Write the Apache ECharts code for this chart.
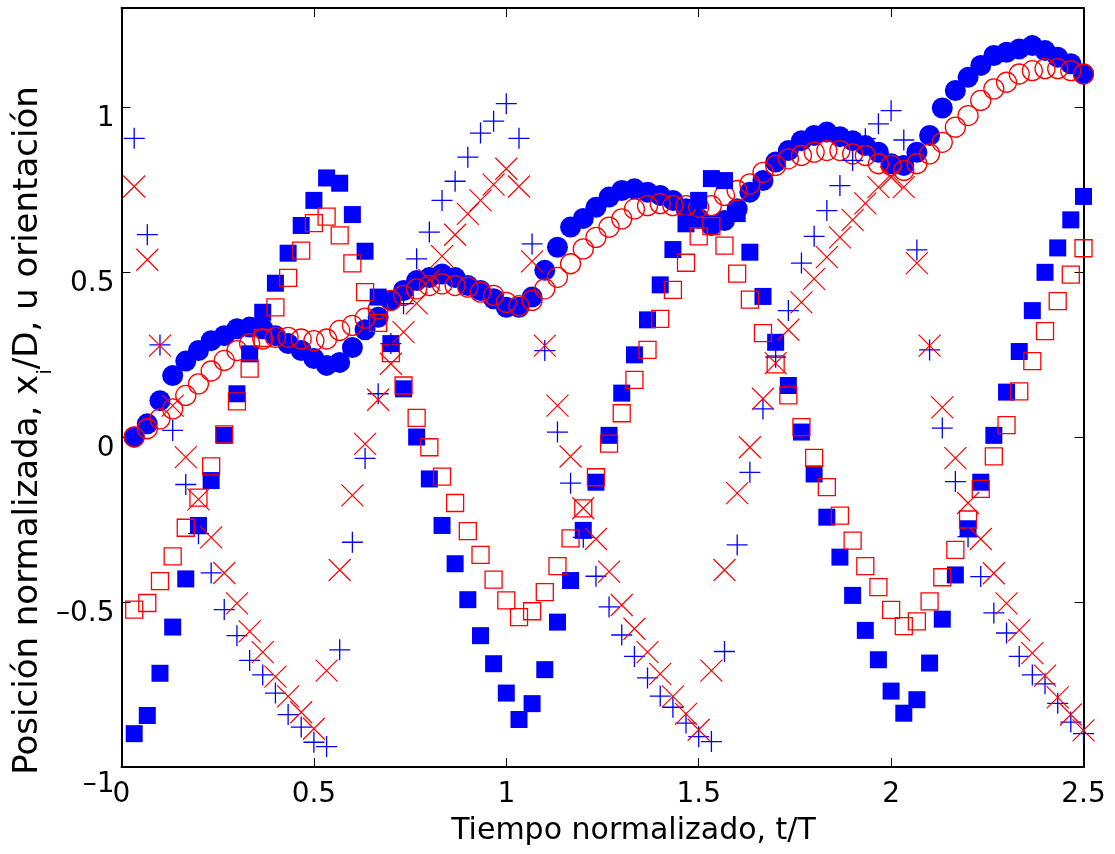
<!DOCTYPE html>
<html>
<head>
<meta charset="utf-8">
<title>Posición normalizada</title>
<script src="https://cdn.jsdelivr.net/npm/echarts@6.0.0/dist/echarts.min.js"></script>
<style>
  html, body { margin: 0; padding: 0; background: #fff; }
  #container { width: 1115px; height: 854px; }
</style>
</head>
<body>
<div id="container"></div>
<script>
// t/T, one sample every 1/30
var tiempo = [0.033, 0.067, 0.1, 0.133, 0.167, 0.2, 0.233, 0.267, 0.3, 0.333,
  0.367, 0.4, 0.433, 0.467, 0.5, 0.533, 0.567, 0.6, 0.633, 0.667,
  0.7, 0.733, 0.767, 0.8, 0.833, 0.867, 0.9, 0.933, 0.967, 1.0,
  1.033, 1.067, 1.1, 1.133, 1.167, 1.2, 1.233, 1.267, 1.3, 1.333,
  1.367, 1.4, 1.433, 1.467, 1.5, 1.533, 1.567, 1.6, 1.633, 1.667,
  1.7, 1.733, 1.767, 1.8, 1.833, 1.867, 1.9, 1.933, 1.967, 2.0,
  2.033, 2.067, 2.1, 2.133, 2.167, 2.2, 2.233, 2.267, 2.3, 2.333,
  2.367, 2.4, 2.433, 2.467, 2.5];

// x1/D (blue filled circles)
var posicion1 = [0.0, 0.04, 0.11, 0.186, 0.23, 0.262, 0.292, 0.307, 0.328, 0.333,
  0.328, 0.307, 0.283, 0.262, 0.238, 0.217, 0.226, 0.271, 0.325, 0.363,
  0.414, 0.444, 0.474, 0.483, 0.494, 0.483, 0.459, 0.444, 0.419, 0.393,
  0.393, 0.424, 0.505, 0.575, 0.636, 0.662, 0.696, 0.727, 0.747, 0.752,
  0.742, 0.732, 0.717, 0.692, 0.662, 0.641, 0.656, 0.692, 0.742, 0.777,
  0.833, 0.868, 0.898, 0.914, 0.924, 0.91, 0.898, 0.883, 0.863, 0.828,
  0.823, 0.863, 0.914, 0.997, 1.05, 1.09, 1.126, 1.156, 1.166, 1.176,
  1.186, 1.171, 1.151, 1.131, 1.10];

// x2/D (red open circles)
var posicion2 = [0.0, 0.025, 0.055, 0.085, 0.126, 0.161, 0.2, 0.232, 0.262, 0.283,
  0.297, 0.302, 0.302, 0.297, 0.292, 0.297, 0.323, 0.338, 0.36, 0.388,
  0.414, 0.429, 0.449, 0.459, 0.464, 0.459, 0.454, 0.439, 0.429, 0.408,
  0.398, 0.414, 0.449, 0.484, 0.525, 0.57, 0.605, 0.636, 0.661, 0.691,
  0.701, 0.707, 0.701, 0.701, 0.696, 0.701, 0.732, 0.747, 0.767, 0.802,
  0.823, 0.843, 0.853, 0.863, 0.868, 0.868, 0.858, 0.853, 0.828, 0.823,
  0.808, 0.828, 0.858, 0.893, 0.939, 0.974, 1.02, 1.055, 1.075, 1.10,
  1.11, 1.116, 1.116, 1.11, 1.10];

// orientacion 1 (blue filled squares)
var orientacion1 = [-0.899, -0.844, -0.716, -0.576, -0.43, -0.268, -0.132, 0.005, 0.131, 0.252,
  0.378, 0.466, 0.557, 0.641, 0.717, 0.785, 0.769, 0.674, 0.563, 0.424,
  0.283, 0.146, 0.0, -0.127, -0.268, -0.384, -0.493, -0.602, -0.687, -0.776,
  -0.856, -0.808, -0.705, -0.561, -0.435, -0.283, -0.137, 0.005, 0.133, 0.249,
  0.355, 0.461, 0.568, 0.646, 0.717, 0.783, 0.777, 0.677, 0.56, 0.426,
  0.287, 0.156, 0.015, -0.112, -0.243, -0.364, -0.48, -0.586, -0.675, -0.77,
  -0.837, -0.796, -0.685, -0.552, -0.418, -0.278, -0.137, 0.005, 0.136, 0.259,
  0.383, 0.499, 0.573, 0.658, 0.729];

// orientacion 2 (red open squares)
var orientacion2 = [-0.523, -0.503, -0.437, -0.362, -0.275, -0.184, -0.089, 0.008, 0.108, 0.207,
  0.30, 0.393, 0.482, 0.565, 0.648, 0.668, 0.611, 0.526, 0.439, 0.346,
  0.254, 0.156, 0.058, -0.031, -0.12, -0.2, -0.285, -0.357, -0.432, -0.495,
  -0.546, -0.528, -0.47, -0.391, -0.307, -0.216, -0.122, -0.02, 0.072, 0.173,
  0.264, 0.358, 0.446, 0.528, 0.608, 0.639, 0.58, 0.495, 0.416, 0.315,
  0.22, 0.126, 0.03, -0.063, -0.152, -0.238, -0.314, -0.391, -0.455, -0.524,
  -0.573, -0.559, -0.498, -0.425, -0.342, -0.25, -0.157, -0.059, 0.036, 0.138,
  0.23, 0.321, 0.412, 0.492, 0.572];

// angulo 1 (blue +)
var angulo1 = [0.905, 0.613, 0.279, 0.02, -0.144, -0.293, -0.412, -0.523, -0.602, -0.677,
  -0.721, -0.776, -0.841, -0.879, -0.925, -0.938, -0.645, -0.319, -0.065, 0.131,
  0.283, 0.404, 0.54, 0.621, 0.717, 0.775, 0.848, 0.921, 0.957, 1.01,
  0.905, 0.585, 0.262, 0.015, -0.14, -0.304, -0.422, -0.515, -0.6, -0.665,
  -0.73, -0.785, -0.819, -0.867, -0.908, -0.923, -0.65, -0.327, -0.107, 0.085,
  0.242, 0.383, 0.527, 0.608, 0.686, 0.762, 0.838, 0.904, 0.949, 0.989,
  0.90, 0.567, 0.264, 0.027, -0.135, -0.302, -0.423, -0.533, -0.594, -0.665,
  -0.721, -0.748, -0.807, -0.864, -0.899];

// angulo 2 (red x)
var angulo2 = [0.759, 0.537, 0.277, 0.095, -0.061, -0.189, -0.304, -0.412, -0.504, -0.589,
  -0.652, -0.726, -0.786, -0.834, -0.884, -0.708, -0.403, -0.177, -0.021, 0.113,
  0.222, 0.318, 0.405, 0.476, 0.548, 0.613, 0.676, 0.717, 0.765, 0.813,
  0.759, 0.532, 0.277, 0.095, -0.059, -0.216, -0.309, -0.408, -0.509, -0.581,
  -0.652, -0.718, -0.786, -0.839, -0.887, -0.708, -0.403, -0.17, -0.031, 0.116,
  0.224, 0.325, 0.408, 0.479, 0.545, 0.605, 0.658, 0.708, 0.757, 0.787,
  0.757, 0.527, 0.277, 0.09, -0.064, -0.2, -0.309, -0.413, -0.504, -0.585,
  -0.655, -0.723, -0.789, -0.841, -0.889];

var xTicks = [0, 0.5, 1, 1.5, 2, 2.5];
var yTicks = [-1, -0.5, 0, 0.5, 1];
var yMax = 1.3;

var FONT = 'DejaVu Sans';

function pares(xs, ys) {
  return ys.map(function (v, i) { return [xs[i], v]; });
}

function texto(v) {
  return String(v).replace('-', '\u2013');
}

var dom = document.getElementById('container');
var myChart = echarts.init(dom, null, { renderer: 'canvas' });

var axisLine = { show: true, onZero: false, lineStyle: { color: '#000', width: 2 } };
var axisTick = { show: true, inside: true, length: 9, lineStyle: { color: '#000', width: 1 } };

var option = {
  animation: false,
  backgroundColor: '#fff',
  grid: { left: 121.5, right: 31.5, top: 8, bottom: 87, containLabel: false, outerBoundsMode: 'none' },
  xAxis: [
    {
      type: 'value', position: 'bottom',
      min: xTicks[0], max: xTicks[xTicks.length - 1], interval: 0.5,
      axisLine: axisLine, axisTick: axisTick, splitLine: { show: false },
      axisLabel: {
        margin: 14, color: '#000', fontFamily: FONT, fontSize: 28,
        formatter: function (v) {
          return xTicks.indexOf(Math.round(v * 1000) / 1000) < 0 ? '' : texto(v);
        }
      },
      name: 'Tiempo normalizado, t/T',
      nameLocation: 'middle', nameGap: 49, nameMoveOverlap: false,
      nameTextStyle: { color: '#000', fontFamily: FONT, fontSize: 30, padding: [0, 0, 0, 62] }
    },
    {
      type: 'value', position: 'top',
      min: xTicks[0], max: xTicks[xTicks.length - 1], interval: 0.5,
      axisLine: axisLine, axisTick: axisTick, splitLine: { show: false },
      axisLabel: { show: false }
    }
  ],
  yAxis: [
    {
      type: 'value', position: 'left',
      min: yTicks[0], max: yMax, interval: 0.5,
      axisLine: axisLine, axisTick: axisTick, splitLine: { show: false },
      axisLabel: {
        margin: 7, color: '#000', fontFamily: FONT, fontSize: 28,
        verticalAlign: 'top',
        formatter: function (v) {
          var r = Math.round(v * 1000) / 1000;
          if (yTicks.indexOf(r) < 0) return '';
          return r === yTicks[0] ? '{bajo|' + texto(v) + '}' : '{n|' + texto(v) + '}';
        },
        rich: {
          n: { fontFamily: FONT, fontSize: 28, color: '#000', lineHeight: 24 },
          bajo: { fontFamily: FONT, fontSize: 28, color: '#000', lineHeight: 36 }
        }
      },
      name: 'Posición normalizada, x{sub|i}/D, u orientación',
      nameLocation: 'middle', nameGap: 76, nameRotate: 90, nameMoveOverlap: false,
      nameTextStyle: {
        color: '#000', fontFamily: FONT, fontSize: 34, padding: [0, 86, 0, 0],
        rich: {
          sub: { fontFamily: FONT, fontSize: 20, color: '#000', verticalAlign: 'bottom', padding: [0, 0, -10, 0] }
        }
      }
    },
    {
      type: 'value', position: 'right',
      min: yTicks[0], max: yMax, interval: 0.5,
      axisLine: axisLine, axisTick: axisTick, splitLine: { show: false },
      axisLabel: { show: false }
    }
  ],
  series: [
    {
      name: 'x1/D', type: 'scatter', silent: true,
      symbol: 'circle', symbolSize: 21,
      itemStyle: { color: '#0000ff', opacity: 1 },
      data: pares(tiempo, posicion1)
    },
    {
      name: 'x2/D', type: 'scatter', silent: true,
      symbol: 'circle', symbolSize: 20,
      itemStyle: { color: 'rgba(0,0,0,0)', borderColor: '#ff0000', borderWidth: 1.3, opacity: 1 },
      data: pares(tiempo, posicion2)
    },
    {
      name: 'orientación 1', type: 'scatter', silent: true,
      symbol: 'rect', symbolSize: 17,
      itemStyle: { color: '#0000ff', opacity: 1 },
      data: pares(tiempo, orientacion1)
    },
    {
      name: 'orientación 2', type: 'scatter', silent: true,
      symbol: 'rect', symbolSize: 17,
      itemStyle: { color: 'rgba(0,0,0,0)', borderColor: '#ff0000', borderWidth: 1.3, opacity: 1 },
      data: pares(tiempo, orientacion2)
    },
    {
      name: 'ángulo 1', type: 'scatter', silent: true,
      symbol: 'path://M10,0L10,20M0,10L20,10', symbolSize: 21,
      itemStyle: { color: 'rgba(0,0,0,0)', borderColor: '#0000ff', borderWidth: 1.3, opacity: 1 },
      data: pares(tiempo, angulo1)
    },
    {
      name: 'ángulo 2', type: 'scatter', silent: true,
      symbol: 'path://M0,0L20,20M20,0L0,20', symbolSize: 22,
      itemStyle: { color: 'rgba(0,0,0,0)', borderColor: '#ff0000', borderWidth: 1.2, opacity: 1 },
      data: pares(tiempo, angulo2)
    }
  ]
};

myChart.setOption(option);
window.addEventListener('resize', myChart.resize);
</script>
</body>
</html>
